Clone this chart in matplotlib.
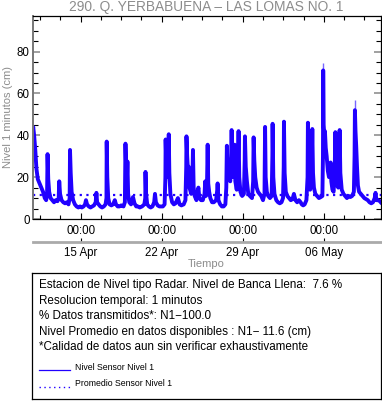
import matplotlib
matplotlib.use("Agg")
import matplotlib.pyplot as plt
import matplotlib.dates as mdates
import numpy as np
import pandas as pd

plt.rcParams["font.family"] = ["Liberation Sans", "DejaVu Sans"]

# =============================================================================
# Datos (dias desde 15 Apr 00:00, nivel en cm)
# =============================================================================

inicio = pd.Timestamp("2024-04-15 00:00")

dias = [
    -4.15, -4.10, -4.02, -3.92, -3.82, -3.70, -3.55, -3.40, -3.25, -3.10,
    -2.98, -2.90, -2.86, -2.80, -2.72, -2.60, -2.45, -2.30, -2.15, -2.00,
    -1.90, -1.85, -1.78, -1.65, -1.50, -1.35, -1.20, -1.05, -0.95, -0.92,
    -0.86, -0.78, -0.65, -0.50, -0.35, -0.20, -0.05, 0.10, 0.25, 0.38,
    0.46, 0.55, 0.70, 0.85, 1.00, 1.15, 1.30, 1.36, 1.42, 1.55,
    1.70, 1.85, 2.00, 2.15, 2.23, 2.25, 2.30, 2.38, 2.50, 2.65,
    2.80, 2.95, 3.05, 3.20, 3.35, 3.50, 3.70, 3.82, 3.87, 3.93,
    4.00, 4.04, 4.10, 4.20, 4.35, 4.52, 4.65, 4.80, 4.95, 5.10,
    5.30, 5.50, 5.58, 5.60, 5.65, 5.75, 5.90, 6.05, 6.20, 6.35,
    6.42, 6.50, 6.65, 6.80, 6.95, 7.10, 7.25, 7.32, 7.34, 7.42,
    7.50, 7.58, 7.61, 7.66, 7.75, 7.90, 8.05, 8.20, 8.40, 8.55,
    8.70, 8.90, 9.05, 9.12, 9.14, 9.20, 9.28, 9.33, 9.40, 9.55,
    9.65, 9.70, 9.76, 9.85, 10.00, 10.17, 10.25, 10.40, 10.55, 10.70,
    10.76, 10.82, 10.90, 10.97, 11.02, 11.10, 11.20, 11.35, 11.50, 11.70,
    11.80, 11.83, 11.90, 12.05, 12.20, 12.35, 12.50, 12.58, 12.63, 12.70,
    12.80, 12.92, 13.00, 13.04, 13.10, 13.20, 13.26, 13.30, 13.36, 13.48,
    13.58, 13.64, 13.70, 13.80, 13.95, 14.10, 14.17, 14.19, 14.26, 14.36,
    14.48, 14.62, 14.80, 14.90, 14.94, 15.00, 15.08, 15.20, 15.32, 15.45,
    15.60, 15.75, 15.88, 15.93, 15.98, 16.08, 16.20, 16.35, 16.50, 16.56,
    16.58, 16.64, 16.74, 16.90, 17.05, 17.20, 17.35, 17.48, 17.54, 17.56,
    17.62, 17.72, 17.85, 18.00, 18.15, 18.30, 18.42, 18.55, 18.70, 18.85,
    19.00, 19.10, 19.22, 19.35, 19.50, 19.60, 19.63, 19.68, 19.74, 19.82,
    19.90, 19.97, 20.01, 20.07, 20.15, 20.27, 20.42, 20.58, 20.75, 20.88,
    20.93, 20.95, 20.99, 21.05, 21.10, 21.17, 21.25, 21.35, 21.45, 21.52,
    21.59, 21.65, 21.75, 21.85, 21.95, 22.00, 22.06, 22.15, 22.25, 22.33,
    22.37, 22.43, 22.55, 22.70, 22.85, 23.00, 23.15, 23.30, 23.45, 23.60,
    23.66, 23.69, 23.74, 23.80, 23.87, 23.95, 24.05, 24.20, 24.35, 24.50,
    24.65, 24.80, 24.95, 25.10, 25.25, 25.40, 25.47, 25.55, 25.70, 25.85,
    25.92,
]

nivel = [
    42, 44, 40, 33, 24, 19, 17, 15, 13, 10,
    9, 12, 31, 19, 13, 10, 9, 8, 9, 8.5,
    10, 18, 12, 9, 8, 7.5, 8, 7, 10, 33,
    22, 13, 9, 7, 6, 5.5, 6, 5.5, 6, 7,
    9, 7, 6, 5.5, 6, 6.5, 8, 12.5, 8, 7,
    6, 5.5, 6, 7, 10, 37, 20, 10, 7, 6.5,
    7, 9, 7, 6, 6, 6.5, 6, 8, 36, 24,
    20, 27.5, 12, 8, 7, 10.5, 7.5, 6, 6, 5.5,
    6, 7, 10, 22.5, 12, 7, 6, 5.5, 6, 8,
    12, 8, 6.5, 6, 6, 6, 7, 20, 38, 22,
    20, 30, 40.5, 22, 12, 8, 7, 7.5, 10, 7,
    6.5, 7, 9, 25, 39.5, 30, 22, 25, 15, 12,
    18, 33, 15, 11, 9, 15, 10, 9, 9, 12,
    18, 11, 12, 35.5, 17, 13, 10, 8, 8, 9,
    14, 17, 9, 7, 6, 6, 7, 15, 35, 20,
    22, 18, 30, 42.5, 25, 20, 26, 35.5, 18, 14,
    24, 42, 20, 13, 11, 12, 28, 39.5, 25, 18,
    12, 11, 10, 18, 39, 28, 20, 15, 13, 12,
    11, 9, 12, 44, 20, 13, 11, 10, 11, 30,
    45.5, 20, 12, 9, 8, 7.5, 8, 10, 25, 46.5,
    22, 13, 11, 10, 9, 9.5, 12, 9, 8, 9,
    8, 7, 6.5, 7, 9, 20, 46, 30, 18, 14,
    16, 30, 43, 22, 15, 12, 11, 10, 10.5, 11,
    30, 71, 45, 40, 42, 34, 30, 23, 20, 22,
    27, 18, 14, 13, 25, 41.5, 22, 16, 15, 30,
    42.5, 22, 14, 12, 11, 10, 11, 10.5, 11, 13,
    30, 52, 42, 35, 25, 16, 13, 12, 11, 10,
    9.5, 9, 8, 7.5, 8, 10, 12.5, 9, 9, 8.5,
    8,
]

# puntas finas de los picos mayores
picos_dias = [20.95, 23.69]
picos_base = [70, 51]
picos_tope = [74.5, 57]

promedio = 11.6
rango_dias = (-4.16, 25.9)

dias_major = [0, 7, 14, 21]
etiquetas_hora = ["00:00", "00:00", "00:00", "00:00"]
etiquetas_fecha = ["15 Apr", "22 Apr", "29 Apr", "06 May"]

titulo = "290. Q. YERBABUENA \u2013 LAS LOMAS NO. 1"
lineas_info = [
    "Estacion de Nivel tipo Radar. Nivel de Banca Llena:  7.6 %",
    "Resolucion temporal: 1 minutos",
    "% Datos transmitidos*: N1\u2212100.0",
    "Nivel Promedio en datos disponibles : N1\u2212 11.6 (cm)",
    "*Calidad de datos aun sin verificar exhaustivamente",
]


def a_num(d):
    return mdates.date2num(inicio + pd.to_timedelta(np.asarray(d, dtype=float), unit="D"))


# =============================================================================
# Figura
# =============================================================================

azul = "#2000ff"
gris = "#8c8c8c"

fig = plt.figure(figsize=(3.82, 4.04), dpi=100)
ax = fig.add_axes([32.5 / 382, 1 - 219 / 404, 348 / 382, 203 / 404])

ax.vlines(a_num(picos_dias), picos_base, picos_tope, color="#7766ff", lw=1.0)
ax.plot(a_num(dias), nivel, color=azul, lw=2.8, solid_joinstyle="round")
ax.axhline(promedio, color=azul, lw=1.6, linestyle=(0, (1, 2)))

ax.set_xlim(a_num(rango_dias))
ax.set_ylim(0, 97)

ax.set_yticks([0, 20, 40, 60, 80])
ax.set_yticks(np.arange(0, 97, 5), minor=True)
ax.set_xticks(a_num(dias_major))
ax.set_xticklabels(etiquetas_hora)
ax.set_xticks(a_num(np.arange(-3.5, 25.9, 1.75)), minor=True)

ax.tick_params(axis="both", which="both", direction="in", top=True, right=True,
               labelsize=8.3, colors="black")
ax.tick_params(axis="y", which="major", length=5, width=1.3, color="#999999", pad=2)
ax.tick_params(axis="y", which="minor", length=3.5, width=0.8)
ax.tick_params(axis="x", which="major", length=4, width=0.8, pad=4)
ax.tick_params(axis="x", which="minor", length=3, width=0.8)

for lado in ["top", "right", "bottom"]:
    ax.spines[lado].set_linewidth(0.9)
ax.spines["left"].set_color("#777777")
ax.spines["left"].set_linewidth(1.4)

# eje de fechas
ax2 = ax.secondary_xaxis(-0.113)
ax2.set_xticks(a_num(dias_major))
ax2.set_xticklabels(etiquetas_fecha)
ax2.tick_params(direction="in", length=3, width=0.8, labelsize=8.3, pad=4)
ax2.spines["bottom"].set_color("#aaaaaa")
ax2.spines["bottom"].set_linewidth(2)

fig.text(206 / 382, 1 - 7.5 / 404, titulo, ha="center", va="center", color=gris, fontsize=9.9)
fig.text(8 / 382, 1 - 117 / 404, "Nivel 1 minutos (cm)", ha="center", va="center",
         rotation=90, color=gris, fontsize=8)
fig.text(206 / 382, 1 - 264 / 404, "Tiempo", ha="center", va="center", color=gris, fontsize=8)

# cuadro de informacion
axt = fig.add_axes([32 / 382, 1 - 399 / 404, 349 / 382, 126 / 404])
axt.set_xticks([])
axt.set_yticks([])
axt.set_xlim(0, 1)
axt.set_ylim(0, 1)
for s in axt.spines.values():
    s.set_linewidth(0.9)

for y, txt in zip([0.905, 0.780, 0.659, 0.534, 0.410], lineas_info):
    axt.text(0.02, y, txt, ha="left", va="center", fontsize=8.4)

axt.plot([0.02, 0.109], [0.230, 0.230], color=azul, lw=0.9)
axt.text(0.123, 0.251, "Nivel Sensor Nivel 1", ha="left", va="center", fontsize=6.3)
axt.plot([0.02, 0.109], [0.098, 0.098], color=azul, lw=1.0, linestyle=(0, (1, 2.5)))
axt.text(0.123, 0.125, "Promedio Sensor Nivel 1", ha="left", va="center", fontsize=6.3)

fig.savefig("out.png", dpi=100)
